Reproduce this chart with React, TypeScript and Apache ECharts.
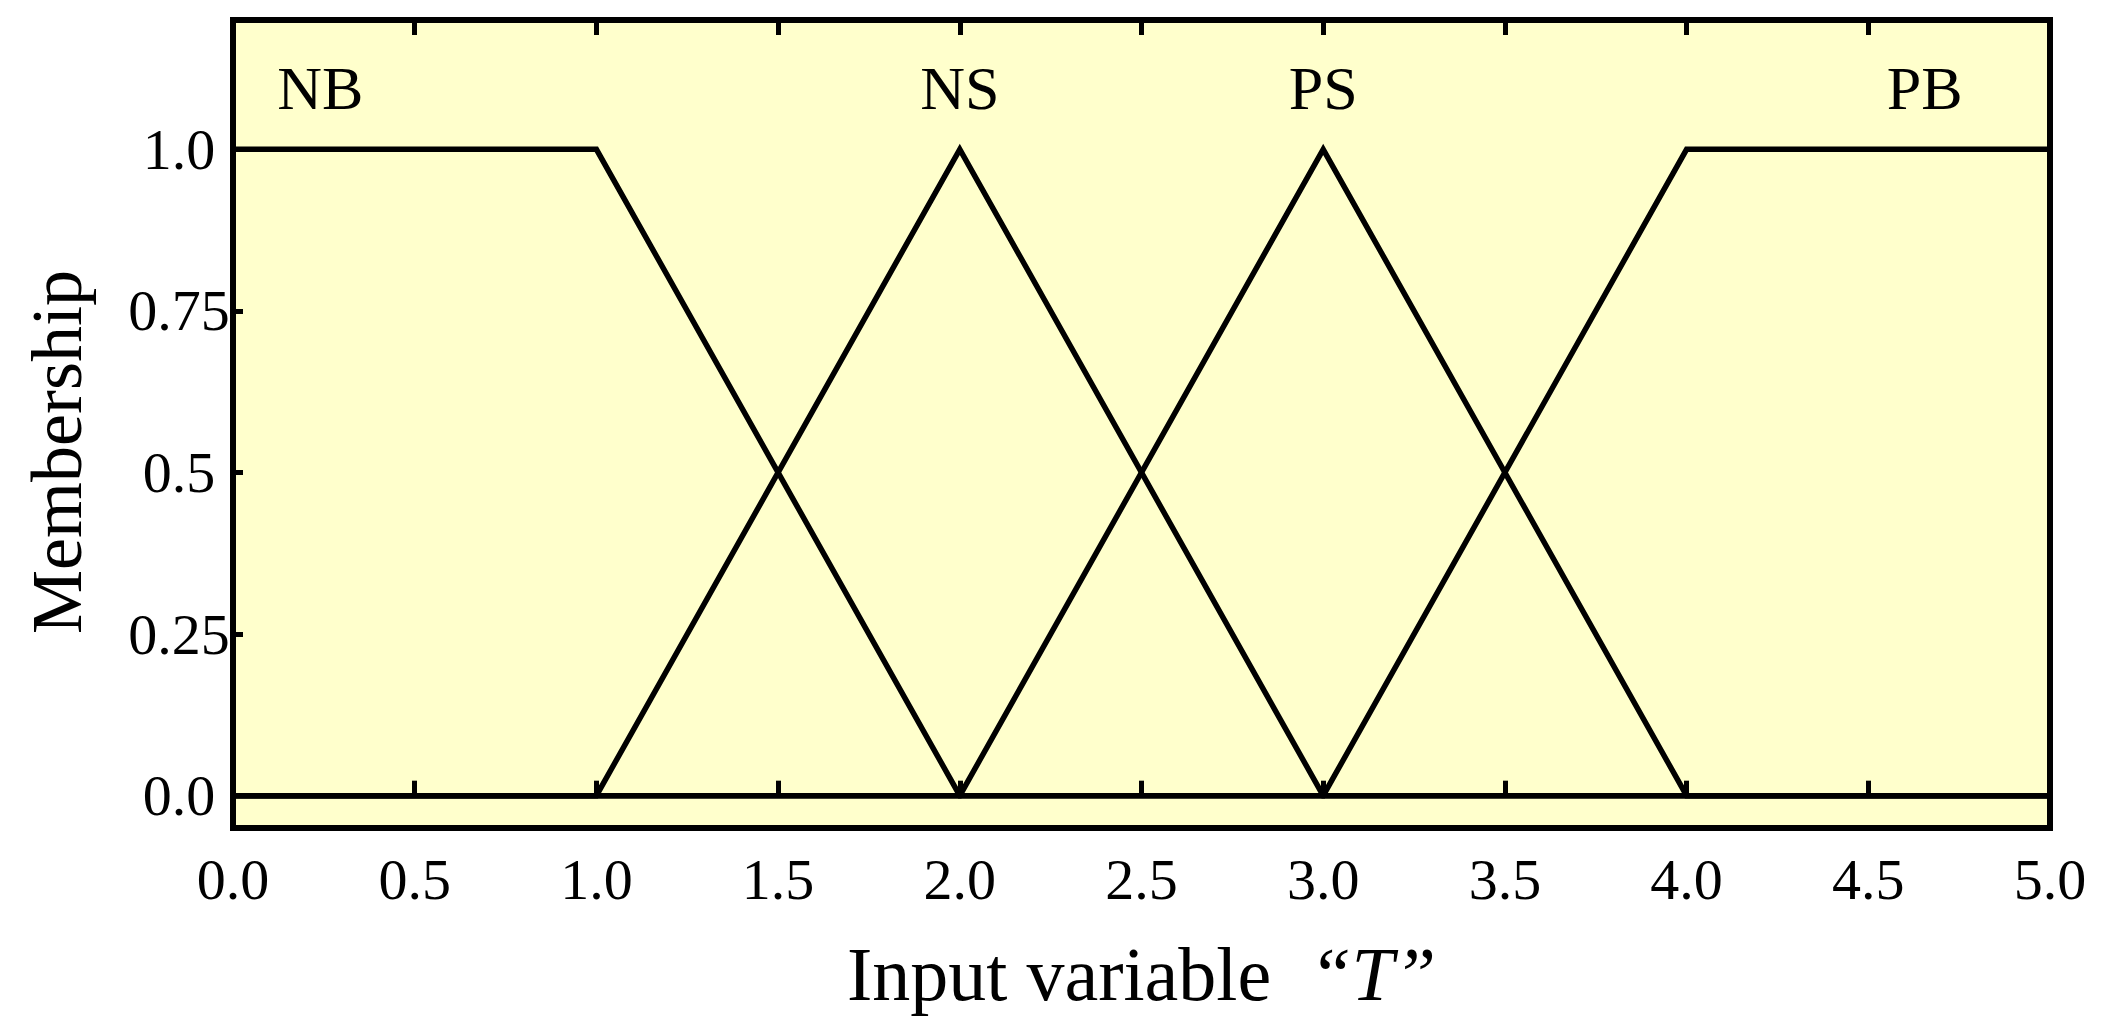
import React, { useEffect, useRef } from "react";
import * as echarts from "echarts";

// membership functions (x, membership)
const nbPoints: number[][] = [[0, 1], [1, 1], [2, 0], [5, 0]];
const nsPoints: number[][] = [[0, 0], [1, 0], [2, 1], [3, 0], [5, 0]];
const psPoints: number[][] = [[0, 0], [2, 0], [3, 1], [4, 0], [5, 0]];
const pbPoints: number[][] = [[0, 0], [3, 0], [4, 1], [5, 1]];

const setNames = ["NB", "NS", "PS", "PB"];
const setLabelX = [0.24, 2.0, 3.0, 4.655];
const setLabelY = [1.095, 1.095, 1.095, 1.095];

const yTickValues = [0, 0.25, 0.5, 0.75, 1.0];
const yTickLabels = ["0.0", "0.25", "0.5", "0.75", "1.0"];

const FONT = "'Liberation Serif', 'Times New Roman', serif";

export default function App() {
  const ref = useRef<HTMLDivElement>(null);
  useEffect(() => {
    if (!ref.current) return;
    const chart = echarts.init(ref.current, undefined, { renderer: "svg" });
    const lineSeries = [nbPoints, nsPoints, psPoints, pbPoints].map((pts, i) => ({
      name: setNames[i],
      type: "line",
      data: pts,
      symbol: "none",
      lineStyle: { color: "#000", width: 5.5, join: "miter" },
      z: 3,
    }));
    chart.setOption({
      animation: false,
      backgroundColor: "#ffffff",
      grid: {
        left: 233,
        right: 64,
        top: 20,
        bottom: 195,
        show: true,
        backgroundColor: "#FFFFCC",
        borderColor: "#000",
        borderWidth: 6,
        z: 0,
      },
      xAxis: [
        {
          type: "value",
          position: "bottom",
          min: 0,
          max: 5,
          interval: 0.5,
          axisLine: { show: false },
          axisTick: { show: true, inside: true, length: 15, lineStyle: { color: "#000", width: 5 } },
          splitLine: { show: false },
          axisLabel: {
            margin: 22,
            color: "#000",
            fontFamily: FONT,
            fontSize: 58,
            formatter: (v: number) => v.toFixed(1),
          },
          name: "Input variable  {it|\u201CT\u201D}",
          nameLocation: "middle",
          nameGap: 108,
          nameTextStyle: {
            color: "#000",
            fontFamily: FONT,
            fontSize: 76,
            rich: {
              it: { fontFamily: FONT, fontSize: 76, fontStyle: "italic", color: "#000" },
            },
          },
        },
        {
          type: "value",
          position: "top",
          min: 0,
          max: 5,
          interval: 0.5,
          axisLine: { show: false },
          axisTick: { show: true, inside: true, length: 15, lineStyle: { color: "#000", width: 5 } },
          splitLine: { show: false },
          axisLabel: { show: false },
        },
      ],
      yAxis: {
        type: "value",
        min: -0.05,
        max: 1.2,
        axisLine: { show: false },
        splitLine: { show: false },
        axisTick: {
          show: true,
          inside: true,
          length: 10,
          customValues: yTickValues,
          lineStyle: { color: "#000", width: 5 },
        },
        axisLabel: {
          customValues: yTickValues,
          align: "center",
          margin: 54,
          color: "#000",
          fontFamily: FONT,
          fontSize: 58,
          formatter: (v: number) => {
            const idx = yTickValues.findIndex((t) => Math.abs(t - v) < 1e-9);
            return idx >= 0 ? yTickLabels[idx] : "";
          },
        },
        name: "Membership",
        nameLocation: "middle",
        nameGap: 140,
        nameTextStyle: {
          color: "#000",
          fontFamily: FONT,
          fontSize: 72,
          padding: [0, 56, 0, 0],
        },
      },
      series: [
        ...lineSeries,
        {
          type: "scatter",
          data: setNames.map((n, i) => ({ name: n, value: [setLabelX[i], setLabelY[i]] })),
          symbolSize: 0,
          itemStyle: { color: "#000", opacity: 0 },
          z: 4,
          label: {
            show: true,
            position: [0, 0],
            align: "center",
            verticalAlign: "middle",
            formatter: (p: any) => p.name,
            color: "#000",
            opacity: 1,
            textBorderWidth: 0,
            fontFamily: FONT,
            fontSize: 62,
          },
        },
      ],
    });
    return () => chart.dispose();
  }, []);
  return (
    <div
      ref={ref}
      style={{ position: "fixed", left: 0, top: 0, width: "2114px", height: "1023px" }}
    />
  );
}
